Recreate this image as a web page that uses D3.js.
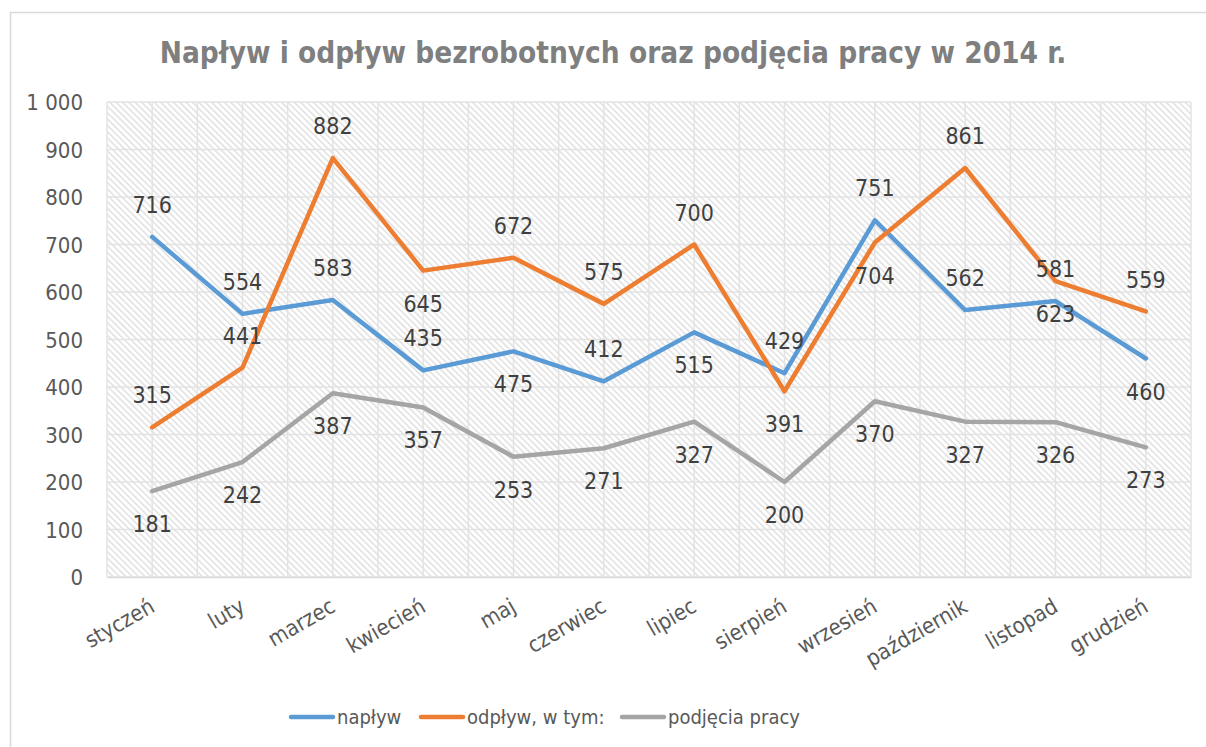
<!DOCTYPE html>
<html>
<head>
<meta charset="utf-8">
<script src="https://cdn.jsdelivr.net/npm/d3@7"></script>
<style>
  body { margin: 0; background: #fff; }
  svg text { font-family: "DejaVu Sans Condensed", "DejaVu Sans", sans-serif; }
</style>
</head>
<body>
<div id="chart"></div>
<script>
// dane
var months = ['styczeń', 'luty', 'marzec', 'kwiecień', 'maj', 'czerwiec', 'lipiec', 'sierpień', 'wrzesień', 'październik', 'listopad', 'grudzień']
var naplyw = [716, 554, 583, 435, 475, 412, 515, 429, 751, 562, 581, 460]
var odplyw = [315, 441, 882, 645, 672, 575, 700, 391, 704, 861, 623, 559]
var podjecia = [181, 242, 387, 357, 253, 271, 327, 200, 370, 327, 326, 273]
var seriesNames = ['napływ', 'odpływ, w tym:', 'podjęcia pracy']
var yTicks = [0, 100, 200, 300, 400, 500, 600, 700, 800, 900, 1000]
// gdzie stoi etykieta: a = nad punktem, b = pod punktem
var naplywPos = ['a', 'a', 'a', 'a', 'b', 'a', 'b', 'a', 'a', 'a', 'a', 'b']
var odplywPos = ['a', 'a', 'a', 'b', 'a', 'a', 'a', 'b', 'b', 'a', 'b', 'a']
var podjeciaPos = ['b', 'b', 'b', 'b', 'b', 'b', 'b', 'b', 'b', 'b', 'b', 'b']

var colors = ['#5b9bd5', '#ed7d31', '#a5a5a5']

var W = 1206, H = 747
var margin = {left: 107, right: 15, top: 102, bottom: 170}

var svg = d3.select('#chart').append('svg').attr('width', W).attr('height', H)

// wzor w paski
var defs = svg.append('defs')
var pat = defs.append('pattern').attr('id', 'hatch')
    .attr('patternUnits', 'userSpaceOnUse')
    .attr('width', 4.5).attr('height', 4.5)
    .attr('patternTransform', 'rotate(-45)')
pat.append('rect').attr('width', 4.5).attr('height', 4.5).attr('fill', '#fff')
pat.append('rect').attr('width', 1.5).attr('height', 4.5).attr('fill', '#e0e0e0')

// ramka wykresu
svg.append('rect').attr('x', 10.5).attr('y', 12.5).attr('width', 1210).attr('height', 760)
    .attr('fill', '#fff').attr('stroke', '#d9d9d9').attr('stroke-width', 1.5)

var x = d3.scaleBand().domain(months).range([margin.left, W - margin.right]).padding(0)
var y = d3.scaleLinear().domain([0, 1000]).range([H - margin.bottom, margin.top])
var cx = function(d) { return x(d) + x.bandwidth() / 2 }

svg.append('rect')
    .attr('x', margin.left).attr('y', margin.top)
    .attr('width', W - margin.right - margin.left).attr('height', y(0) - margin.top)
    .attr('fill', 'url(#hatch)')

// siatka pozioma
svg.append('g').selectAll('line').data(yTicks).enter().append('line')
    .attr('x1', margin.left).attr('x2', W - margin.right)
    .attr('y1', function(d) { return y(d) }).attr('y2', function(d) { return y(d) })
    .attr('stroke', '#e3e3e3').attr('stroke-width', 1.5)

// siatka pionowa - granice i srodki kategorii
var vlines = []
months.forEach(function(m) { vlines.push(x(m)); vlines.push(cx(m)) })
vlines.push(W - margin.right)
svg.append('g').selectAll('line').data(vlines).enter().append('line')
    .attr('x1', function(d) { return d }).attr('x2', function(d) { return d })
    .attr('y1', margin.top).attr('y2', y(0))
    .attr('stroke', '#e3e3e3').attr('stroke-width', 1.5)

// os y
var fmt = function(d) { return d3.format(',')(d).replace(',', ' ') }
var yAxis = svg.append('g').attr('transform', 'translate(' + (margin.left - 24) + ',0)')
    .call(d3.axisLeft(y).tickValues(yTicks).tickFormat(fmt).tickSize(0).tickPadding(0))
yAxis.select('.domain').remove()
yAxis.selectAll('text').attr('fill', '#595959').style('font-size', '22px').attr('dy', '0.35em')

// os x
var xAxis = svg.append('g').attr('transform', 'translate(0,' + y(0) + ')')
    .call(d3.axisBottom(x).tickSize(0).tickPadding(0))
xAxis.select('.domain').attr('stroke', '#d9d9d9').attr('stroke-width', 1.5)
xAxis.selectAll('text')
    .attr('fill', '#595959').style('font-size', '22px')
    .attr('text-anchor', 'end')
    .attr('dy', '0.35em')
    .attr('transform', 'translate(0,27) rotate(-30)')

// linie
var allSeries = [naplyw, odplyw, podjecia]
var allPos = [naplywPos, odplywPos, podjeciaPos]
var line = d3.line().x(function(d, i) { return cx(months[i]) }).y(function(d) { return y(d) })

allSeries.forEach(function(s, k) {
    svg.append('path').datum(s).attr('d', line)
        .attr('fill', 'none').attr('stroke', colors[k]).attr('stroke-width', 4.5)
        .attr('stroke-linejoin', 'round').attr('stroke-linecap', 'round')
})

allSeries.forEach(function(s, k) {
    svg.append('g').selectAll('text').data(s).enter().append('text')
        .attr('x', function(d, i) { return cx(months[i]) })
        .attr('y', function(d, i) { return y(d) + (allPos[k][i] == 'a' ? -32 : 33) })
        .attr('dy', '0.35em')
        .attr('text-anchor', 'middle')
        .attr('fill', '#404040').style('font-size', '23px')
        .text(function(d) { return d })
})

// tytul
svg.append('text').attr('x', 613).attr('y', 63).attr('text-anchor', 'middle')
    .attr('fill', '#7f7f7f').style('font-size', '29.5px').style('font-weight', 'bold')
    .text('Napływ i odpływ bezrobotnych oraz podjęcia pracy w 2014 r.')

// legenda
var legX = [291, 421, 622]
var leg = svg.append('g')
seriesNames.forEach(function(n, k) {
    leg.append('line').attr('x1', legX[k]).attr('x2', legX[k] + 42).attr('y1', 717).attr('y2', 717)
        .attr('stroke', colors[k]).attr('stroke-width', 4.5).attr('stroke-linecap', 'round')
    leg.append('text').attr('x', legX[k] + 46).attr('y', 717).attr('dy', '0.35em')
        .attr('fill', '#595959').style('font-size', '20px').text(n)
})
</script>
</body>
</html>
